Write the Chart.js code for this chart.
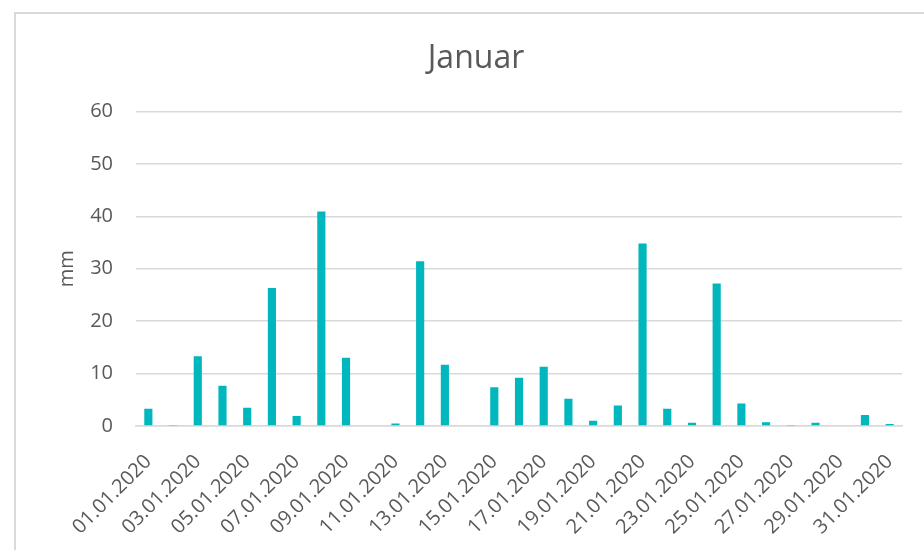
<!DOCTYPE html>
<html>
<head>
<meta charset="utf-8">
<title>Januar</title>
<script src="https://cdn.jsdelivr.net/npm/chart.js@4/dist/chart.umd.min.js"></script>
<style>
    html, body { margin: 0; padding: 0; background: #fff; overflow: hidden; }
    #wrap { position: relative; width: 924px; height: 550px; }
    #frame {
        position: absolute; left: 14px; top: 12px;
        width: 960px; height: 600px;
        border: 2px solid #d9d9d9; box-sizing: border-box;
    }
    #chart { position: absolute; left: 0; top: 0; }
</style>
</head>
<body>
<div id="wrap">
    <div id="frame"></div>
    <canvas id="chart" width="924" height="550"></canvas>
</div>
<script>
// Niederschlag pro Tag im Januar 2020 (mm)
const days = [
    "01.01.2020", "02.01.2020", "03.01.2020", "04.01.2020", "05.01.2020",
    "06.01.2020", "07.01.2020", "08.01.2020", "09.01.2020", "10.01.2020",
    "11.01.2020", "12.01.2020", "13.01.2020", "14.01.2020", "15.01.2020",
    "16.01.2020", "17.01.2020", "18.01.2020", "19.01.2020", "20.01.2020",
    "21.01.2020", "22.01.2020", "23.01.2020", "24.01.2020", "25.01.2020",
    "26.01.2020", "27.01.2020", "28.01.2020", "29.01.2020", "30.01.2020",
    "31.01.2020"
];
const rainMm = [
    3.3, 0.1, 13.3, 7.7, 3.5, 26.3, 1.9, 40.9, 13.0, 0,
    0.5, 31.4, 11.7, 0, 7.4, 9.2, 11.3, 5.2, 1.0, 3.9,
    34.8, 3.3, 0.6, 27.2, 4.3, 0.7, 0.1, 0.6, 0, 2.1,
    0.4
];
const yTicks = [0, 10, 20, 30, 40, 50, 60];

const textColor = "#595959";
const gridColor = "#d9d9d9";
const fontFamily = "'Open Sans', 'Liberation Sans', sans-serif";

new Chart(document.getElementById("chart").getContext("2d"), {
    type: "bar",
    data: {
        labels: days,
        datasets: [{
            label: "Niederschlag",
            data: rainMm,
            backgroundColor: "#00b7be",
            borderWidth: 0,
            barPercentage: 0.33,
            categoryPercentage: 1
        }]
    },
    options: {
        responsive: false,
        animation: false,
        layout: { padding: { left: 50, right: 22, top: 40, bottom: 0 } },
        plugins: {
            legend: { display: false },
            tooltip: { enabled: false },
            title: {
                display: true,
                text: "Januar",
                color: textColor,
                font: { family: fontFamily, size: 32, weight: "normal" },
                padding: { top: 0, bottom: 33 }
            }
        },
        scales: {
            x: {
                grid: { display: false },
                border: { color: gridColor, width: 1.5 },
                ticks: {
                    color: textColor,
                    font: { family: fontFamily, size: 20 },
                    autoSkip: false,
                    maxRotation: 45,
                    minRotation: 45,
                    padding: 16,
                    // nur jeden zweiten Tag beschriften
                    callback: (value, index) => index % 2 === 0 ? days[index] : ""
                },
                afterFit: scale => { scale.height = 124; }
            },
            y: {
                min: 0,
                max: 60,
                afterBuildTicks: scale => { scale.ticks = yTicks.map(v => ({ value: v })); },
                grid: { color: gridColor, lineWidth: 1.5, drawTicks: false },
                border: { display: false },
                ticks: {
                    color: textColor,
                    font: { family: fontFamily, size: 20 },
                    padding: 23
                },
                title: {
                    display: true,
                    text: "mm",
                    color: textColor,
                    font: { family: fontFamily, size: 20 },
                    padding: { top: 5, bottom: 0 }
                },
                afterFit: scale => { scale.width = 86; }
            }
        }
    }
});
</script>
</body>
</html>
